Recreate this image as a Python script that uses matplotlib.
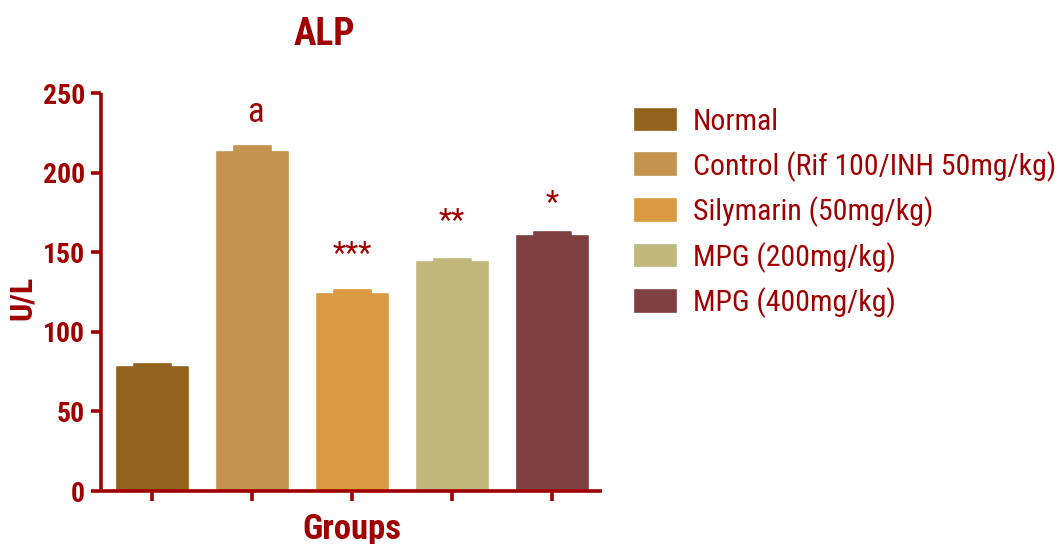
import matplotlib
matplotlib.use("Agg")
import matplotlib.pyplot as plt

groups = ["Normal", "Control (Rif 100/INH 50mg/kg)", "Silymarin (50mg/kg)",
          "MPG (200mg/kg)", "MPG (400mg/kg)"]
means = [78, 213, 124, 144, 160]
errors = [2.0, 4.0, 2.5, 2.0, 2.5]
marks = ["", "a", "***", "**", "*"]
colors = ["#93621F", "#C4934F", "#D89B42", "#C0B77D", "#803F40"]
yticks = [0, 50, 100, 150, 200, 250]

RED = "#A00000"
plt.rcParams["font.family"] = ["Roboto Condensed", "DejaVu Sans"]

W, H = 1059, 544
fig = plt.figure(figsize=(W / 100, H / 100), dpi=100)
ax = fig.add_axes([101 / W, 1 - 491 / H, 501 / W, 398 / H])

x = list(range(len(groups)))
bars = ax.bar(x, means, width=0.71, color=colors, edgecolor=colors,
              linewidth=1.2, joinstyle="round", zorder=2)
# SEM shown as a thick rounded cap on top of each bar
ax.bar(x, errors, bottom=means, width=0.37, color=colors, edgecolor=colors,
       linewidth=1.2, joinstyle="round", zorder=2)

# vertical gap (data units) between the error cap and the significance mark
gap = {"a": 15, "***": 13, "**": 14, "*": 9}
for xi, m, e, t in zip(x, means, errors, marks):
    if t == "a":
        ax.text(xi + 0.03, m + e + gap[t], t, ha="center", va="baseline",
                color=RED, fontsize=25)
    elif t:
        ax.text(xi, m + e + gap[t], t, ha="center", va="bottom",
                color=RED, fontsize=22)

ax.set_xlim(-0.51, 4.5)
ax.set_ylim(0, 250)
ax.set_yticks(yticks)
ax.set_xticks(x)
ax.set_xticklabels([""] * len(x))

for s in ["top", "right"]:
    ax.spines[s].set_visible(False)
for s in ["left", "bottom"]:
    ax.spines[s].set_color(RED)
    ax.spines[s].set_linewidth(2.6)
    ax.spines[s].set_capstyle("butt")
ax.tick_params(axis="both", colors=RED, width=2.6, length=7.5, direction="out")
ax.tick_params(axis="y", labelsize=20, pad=4)
for lab in ax.get_yticklabels():
    lab.set_fontweight("bold")

fig.text(22 / W, 1 - 298 / H, "U/L", color=RED, fontsize=23,
         fontweight="bold", rotation=90, ha="center", va="center")
fig.text(352 / W, 1 - 539 / H, "Groups", color=RED, fontsize=25,
         fontweight="bold", ha="center", va="baseline")
fig.text(324 / W, 1 - 45 / H, "ALP", color=RED, fontsize=27,
         fontweight="bold", ha="center", va="baseline")

leg = ax.legend(handles=bars, labels=groups, loc="upper left",
                bbox_to_anchor=(614 / W, 1 - 87 / H),
                bbox_transform=fig.transFigure, frameon=False,
                fontsize=21.5, labelcolor=RED, handlelength=1.37,
                handleheight=0.74, labelspacing=0.5, handletextpad=0.58,
                borderpad=0.2)

fig.savefig("out.png", dpi=100)
